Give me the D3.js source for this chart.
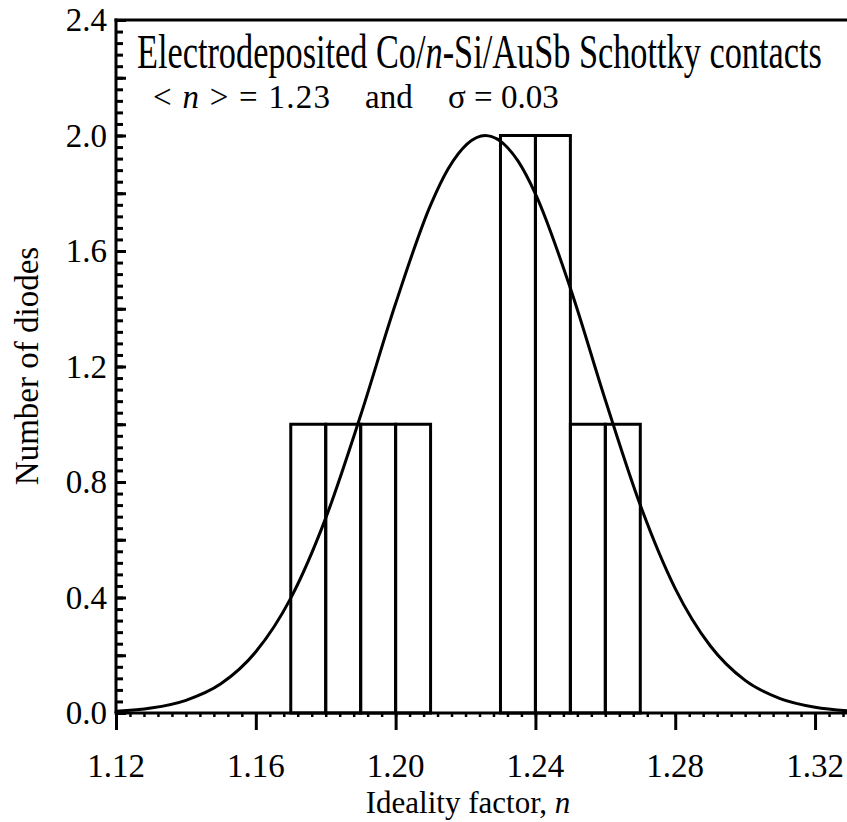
<!DOCTYPE html>
<html><head><meta charset="utf-8">
<script src="https://cdn.jsdelivr.net/npm/d3@7"></script>
<style>body{margin:0;background:#fff}svg{display:block}</style>
</head><body><svg id="c" width="847" height="822"></svg>
<script>
// histogram bins (left edge of each 0.01 wide bin) and counts
const binStarts = [1.17, 1.18, 1.19, 1.20, 1.23, 1.24, 1.25, 1.26];
const binCounts = [1, 1, 1, 1, 2, 2, 1, 1];
const binWidth = 0.01;
// fitted gaussian curve
const curveX = [1.12,1.13,1.14,1.15,1.16,1.17,1.18,1.19,1.20,1.21,1.215,1.2257,1.235,1.24,1.25,1.26,1.27,1.28,1.29,1.30,1.31,1.32,1.33];
const curveY = [0.006,0.017,0.044,0.101,0.212,0.398,0.675,1.031,1.418,1.759,1.884,2.0,1.912,1.798,1.471,1.084,0.720,0.431,0.233,0.113,0.050,0.020,0.007];
const xTicks = [1.12,1.16,1.20,1.24,1.28,1.32];
const xTickLabels = ["1.12","1.16","1.20","1.24","1.28","1.32"];
const yTicks = [0,0.4,0.8,1.2,1.6,2.0,2.4];
const yTickLabels = ["0.0","0.4","0.8","1.2","1.6","2.0","2.4"];

const FONT = "'Liberation Serif', 'Times New Roman', Times, serif";
const svg = d3.select("#c");
const x = d3.scaleLinear().domain([1.12,1.33]).range([116,850]);
const y = d3.scaleLinear().domain([0,2.4]).range([713,20]);

// bars
svg.append("g").selectAll("rect").data(binStarts).join("rect")
  .attr("x",(d)=>x(d)).attr("width",(d)=>x(d+binWidth)-x(d))
  .attr("y",(d,i)=>y(binCounts[i])).attr("height",(d,i)=>y(0)-y(binCounts[i]))
  .attr("fill","none").attr("stroke","#000").attr("stroke-width",3);

// curve
const pts = curveX.map((v,i)=>[v,curveY[i]]);
svg.append("path").datum(pts)
  .attr("d",d3.line().x(d=>x(d[0])).y(d=>y(d[1])).curve(d3.curveMonotoneX))
  .attr("fill","none").attr("stroke","#000").attr("stroke-width",3);

// x axis ticks (outward)
const xMinor = d3.range(0,53).map(i=>1.12+i*0.004);
svg.append("g").attr("transform",`translate(0,${y(0)})`)
  .call(d3.axisBottom(x).tickValues(xMinor).tickSize(4).tickFormat(""))
  .call(g=>{g.select(".domain").remove();g.selectAll("line").attr("stroke-width",2.5);});
svg.append("g").attr("transform",`translate(0,${y(0)})`)
  .call(d3.axisBottom(x).tickValues(xTicks).tickSize(17).tickFormat(""))
  .call(g=>{g.select(".domain").remove();g.selectAll("line").attr("stroke-width",3);});
// y axis ticks (inward)
const yMinor = d3.range(0,61).map(i=>i*0.04);
const yMid = d3.range(0,13).map(i=>i*0.2);
svg.append("g").attr("transform",`translate(${x(1.12)},0)`)
  .call(d3.axisRight(y).tickValues(yMinor).tickSize(7).tickFormat(""))
  .call(g=>{g.select(".domain").remove();g.selectAll("line").attr("stroke-width",3);});
svg.append("g").attr("transform",`translate(${x(1.12)},0)`)
  .call(d3.axisRight(y).tickValues(yMid).tickSize(10).tickFormat(""))
  .call(g=>{g.select(".domain").remove();g.selectAll("line").attr("stroke-width",3);});

// axis lines
svg.append("line").attr("x1",x(1.12)-1.5).attr("x2",847).attr("y1",y(0)).attr("y2",y(0)).attr("stroke","#000").attr("stroke-width",3);
svg.append("line").attr("x1",x(1.12)).attr("x2",x(1.12)).attr("y1",y(2.4)-1.5).attr("y2",y(0)).attr("stroke","#000").attr("stroke-width",3);
svg.append("line").attr("x1",x(1.12)-1.5).attr("x2",847).attr("y1",y(2.4)).attr("y2",y(2.4)).attr("stroke","#000").attr("stroke-width",3);

// tick labels
svg.append("g").selectAll("text").data(xTicks).join("text")
  .style("font-family",FONT).attr("x",d=>x(d)).attr("y",777).attr("text-anchor","middle").attr("font-size",33)
  .text((d,i)=>xTickLabels[i]);
svg.append("g").selectAll("text").data(yTicks).join("text")
  .style("font-family",FONT).attr("x",107).attr("y",d=>y(d)+11).attr("text-anchor","end").attr("font-size",33)
  .text((d,i)=>yTickLabels[i]);

// axis titles
const xt = svg.append("text").style("font-family",FONT).attr("x",468).attr("y",813).attr("text-anchor","middle").attr("font-size",31);
xt.append("tspan").text("Ideality factor, ");
xt.append("tspan").attr("font-style","italic").text("n");
svg.append("text").style("font-family",FONT).attr("transform","translate(38,366) rotate(-90)").attr("text-anchor","middle")
  .attr("font-size",33).text("Number of diodes");

// annotation line 1: laid out naturally, then squeezed horizontally to the picture's width
const g1 = svg.append("g");
const t1 = g1.append("text").style("font-family",FONT).attr("x",0).attr("y",0).attr("font-size",48);
t1.append("tspan").text("Electrodeposited Co/");
t1.append("tspan").attr("font-style","italic").text("n");
t1.append("tspan").text("-Si/AuSb Schottky contacts");
const w1 = t1.node().getComputedTextLength();
g1.attr("transform",`translate(137,68) scale(${685/w1},1)`);

// annotation line 2
const t2 = svg.append("text").style("font-family",FONT).attr("x",153).attr("y",108).attr("font-size",33)
  .attr("textLength",177).attr("lengthAdjust","spacing");
t2.append("tspan").text("< ");
t2.append("tspan").attr("font-style","italic").text("n");
t2.append("tspan").text(" > = 1.23");
svg.append("text").style("font-family",FONT).attr("x",365).attr("y",108).attr("font-size",33).text("and");
svg.append("text").style("font-family",FONT).attr("x",448).attr("y",108).attr("font-size",33).text("σ = 0.03");
</script></body></html>
